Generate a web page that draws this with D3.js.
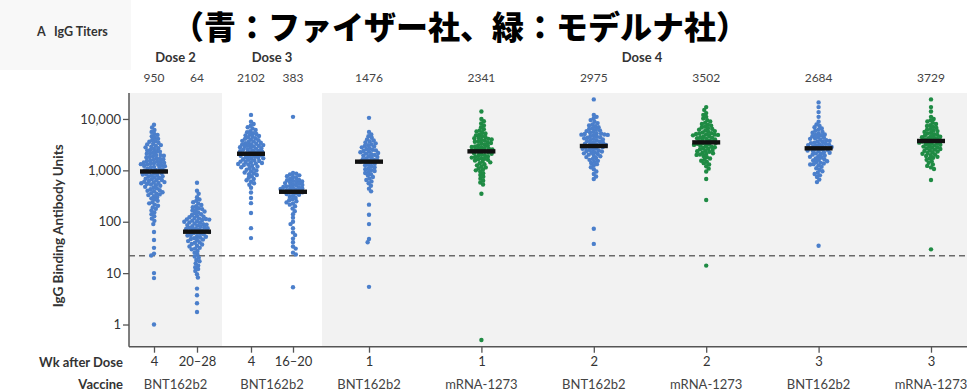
<!DOCTYPE html>
<html><head><meta charset="utf-8">
<script src="https://cdn.jsdelivr.net/npm/d3@7"></script>
<style>
html,body{margin:0;padding:0;background:#fff;}
svg{display:block;}
</style></head>
<body>
<svg id="chart" width="967" height="392"></svg>
<script>
// ---------------- DATA ----------------
const groupIds = ["d2w4","d2w24","d3w4","d3w18","bnt1","mrna1","bnt2","mrna2","bnt3","mrna3"];
const sections = ["Dose 2","Dose 3","Dose 4"];
const groupSection = [0,0,1,1,2,2,2,2,2,2];
const weekLabels = ["4","20–28","4","16–20","1","1","2","2","3","3"];
const vaccineLabels = ["BNT162b2","BNT162b2","BNT162b2","BNT162b2","BNT162b2","mRNA-1273","BNT162b2","mRNA-1273","BNT162b2","mRNA-1273"];
const gmtValues = [950,64,2102,383,1476,2341,2975,3502,2684,3729];
const yTickValues = [1,10,100,1000,10000];
const lloq = 21.8;

const d2w4Values = [7700,6800,6100,5600,5100,
 4900,4600,4300,4100,3900,3700,3600,3450,3300,3200,
 3100,3000,2900,2800,2700,2600,2500,2450,2350,2300,2200,2150,2100,2000,
 1980,1920,1880,1820,1780,1720,1680,1640,1600,1560,1520,1480,1450,1420,1400,1370,1340,1320,1300,
 1280,1250,1220,1200,1170,1140,1110,1080,1050,1020,1000,980,960,940,910,890,870,850,830,810,
 790,770,750,730,710,690,670,650,640,620,600,590,580,570,560,545,530,
 515,500,480,460,445,430,410,400,390,375,360,350,340,
 330,315,300,285,270,255,240,228,215,
 205,190,178,165,152,140,128,115,104,
 90,63,44,31,24,22,10,8,1.0];
const d2w24Values = [575,400,350,300,270,
 255,240,225,212,200,192,183,176,170,
 165,158,152,146,140,135,130,126,122,118,115,113,111,110,
 108,105,102,100,97,95,92,90,88,86,84,82,80,78,76,75,73,72,70,
 69,67,66,64,63,61,60,58,57,55,54,52,51,49,48,46,45,
 44,42,40,39,37,36,34,33,31,30,
 29,27,25,23,21,20,18,
 17,15.5,14,13,12,11,9.5,8.2,
 5,3.7,2.6,1.75];
const d3w4Values = [12000,
 8800,8000,7400,6900,6500,6100,5800,5500,5300,5100,4950,
 4800,4650,4500,4350,4200,4100,3950,3850,3750,3650,3550,3450,3380,3300,3230,3170,3100,
 3050,2990,2930,2870,2810,2750,2690,2630,2570,2510,2450,2400,2350,2300,2250,2200,2150,2100,2050,2000,
 1960,1920,1880,1840,1800,1760,1720,1680,1640,1600,1560,1520,1480,1450,1420,1390,1360,1330,1300,
 1270,1230,1190,1150,1110,1070,1030,990,950,910,880,840,810,
 770,720,680,640,600,560,525,
 460,370,290,230,148,75,48];
const d3w18Values = [11000,
 890,860,830,800,770,740,710,680,650,
 640,625,610,595,580,565,550,535,520,505,495,485,475,465,455,445,435,425,420,
 410,400,392,385,375,365,355,345,335,
 320,305,290,275,262,250,238,226,215,
 200,180,160,140,
 120,100,90,75,62,55,47,40,33,30,25,23,
 5.3];
const bnt1Values = [10500,
 5600,5000,4600,4300,4000,3800,3650,
 3500,3350,3200,3100,3000,2900,2800,2700,2600,2500,2450,2380,2300,
 2250,2180,2120,2060,2000,1940,1880,1820,1760,1700,1650,1600,1560,1520,1480,1450,
 1400,1350,1300,1250,1200,1150,1100,1050,1010,970,930,
 890,840,790,740,690,650,610,
 560,500,440,390,
 215,137,90,46,40,5.4];
const mrna1Values = [14000,
 10000,9000,8200,7500,6900,6300,
 6000,5700,5400,5200,5000,4800,4600,4450,4300,4200,4100,4000,3900,
 3800,3700,3600,3500,3400,3300,3200,3100,3000,2930,2860,2790,2720,2660,2600,2550,2500,
 2450,2400,2340,2280,2220,2160,2100,2040,1980,1920,1870,1820,1770,1720,1680,1640,1600,
 1550,1490,1430,1370,1310,1250,1190,1140,1090,1040,1000,
 950,880,810,750,690,630,580,530,
 350,0.5];
const bnt2Values = [24000,
 12000,11000,10200,9500,8800,8300,7800,
 7500,7200,6900,6600,6400,6200,6000,5800,5600,5450,5300,5200,5100,5000,4950,4900,
 4800,4650,4500,4400,4300,4200,4100,4000,3900,3800,3700,3600,3500,3420,3350,3280,3200,3130,
 3050,2980,2910,2840,2770,2700,2630,2560,2500,2440,2380,2320,2260,2200,2140,2080,2020,
 1950,1880,1810,1740,1670,1600,1530,1460,1390,1320,
 1250,1150,1050,950,850,760,680,
 73,37];
const mrna2Values = [17000,15000,13000,
 12000,11000,10200,9500,8900,8400,8000,7700,
 7400,7100,6800,6600,6400,6200,6000,5800,5600,5450,5300,5200,5100,5000,4950,4900,
 4800,4650,4500,4400,4300,4200,4100,4000,3900,3800,3700,3600,3500,3420,3350,3280,3200,3130,
 3050,2970,2890,2810,2730,2650,2570,2500,2430,2360,2290,2220,2150,2090,2030,2000,
 1900,1800,1700,1620,1540,1460,1380,1300,
 1200,1080,950,
 680,265,14];
const bnt3Values = [21000,17000,13600,11000,8800,
 7800,7300,6900,6500,6200,5900,5600,5400,5200,5000,4900,
 4750,4600,4450,4300,4200,4100,3950,3850,3750,3650,3550,3450,3380,3300,3230,3160,3100,
 3040,2980,2920,2860,2800,2740,2680,2620,2560,2500,2440,2380,2320,2260,2200,2140,2080,2020,
 1950,1890,1830,1770,1710,1650,1600,1550,1500,1450,1400,1360,1320,1300,
 1240,1170,1100,1030,960,900,850,800,
 740,660,590,
 34];
const mrna3Values = [24000,17000,14000,11000,
 10000,9400,8900,8400,8000,7600,7300,7000,6700,6400,
 6200,6000,5800,5600,5400,5200,5050,4900,4750,4600,4500,4400,4300,4200,4100,
 4000,3900,3800,3700,3620,3540,3460,3380,3300,3220,3140,3060,2980,2900,2820,2750,2680,2600,
 2530,2460,2390,2320,2250,2180,2110,2040,1970,1900,1830,1760,1700,
 1600,1500,1400,1300,1220,1140,1060,
 650,29];

const groupValues = [d2w4Values,d2w24Values,d3w4Values,d3w18Values,bnt1Values,mrna1Values,bnt2Values,mrna2Values,bnt3Values,mrna3Values];

// ---------------- LAYOUT ----------------
const W = 967, H = 392;
const plotTop = 93, plotBottom = 346.7, axisX = 129;
const svg = d3.select("#chart");
const font = "Lato, 'Open Sans', sans-serif";
const BLUE = "#4b7fcb", GREEN = "#1f8b44";

const y = d3.scaleLog().domain([0.37, 32000]).range([plotBottom, plotTop]);

const sectionExtents = [[axisX,222],[222,322],[322,W]];
const sectionScales = [
  d3.scalePoint().domain(groupIds.slice(0,2)).range([154,197]),
  d3.scalePoint().domain(groupIds.slice(2,4)).range([251,293]),
  d3.scalePoint().domain(groupIds.slice(4)).range([369,931])
];
const xOf = (i) => sectionScales[groupSection[i]](groupIds[i]);
const xScale = d3.scaleOrdinal().domain(groupIds).range(groupIds.map((g,i)=>xOf(i)));

// header background (faint)
svg.append("rect").attr("x",0).attr("y",0).attr("width",131).attr("height",70).attr("fill","#f8f8f8");

// panels
svg.append("rect").attr("x",sectionExtents[0][0]).attr("y",plotTop).attr("width",sectionExtents[0][1]-sectionExtents[0][0]).attr("height",plotBottom-plotTop).attr("fill","#f2f2f2");
svg.append("rect").attr("x",sectionExtents[2][0]).attr("y",plotTop).attr("width",sectionExtents[2][1]-sectionExtents[2][0]).attr("height",plotBottom-plotTop).attr("fill","#f2f2f2");

// titles
svg.append("text").attr("x",37).attr("y",36).attr("font-family",font).attr("font-weight",700).attr("font-size",12.5).attr("fill","#333").text("A");
svg.append("text").attr("x",54).attr("y",36).attr("font-family",font).attr("font-weight",700).attr("font-size",12.5).attr("fill","#333").text("IgG Titers");
svg.append("text").attr("x",172).attr("y",39).attr("font-family","'Noto Sans CJK JP', sans-serif").attr("font-weight",900).attr("font-size",32).attr("fill","#000").text("（青：ファイザー社、緑：モデルナ社）");

// section labels
sections.forEach((s,k)=>{
  const idx = groupSection.map((g,i)=>g===k?i:-1).filter(i=>i>=0);
  const cx = (xOf(idx[0])+xOf(idx[idx.length-1]))/2 - (k===2?8:0);
  svg.append("text").attr("x",cx).attr("y",62).attr("text-anchor","middle").attr("font-family",font).attr("font-weight",700).attr("font-size",13).attr("fill","#333").text(s);
});
// GMT numbers
svg.selectAll(".gmt").data(gmtValues).join("text").attr("class","gmt")
  .attr("x",(d,i)=>xOf(i)).attr("y",82).attr("text-anchor","middle")
  .attr("font-family",font).attr("font-size",12).attr("fill","#444").text(d=>d);

// y axis
const yAxis = d3.axisLeft(y).tickValues(yTickValues).tickFormat(d3.format(",")).tickSize(6).tickPadding(2);
const gy = svg.append("g").attr("transform",`translate(${axisX},0)`).call(yAxis);
gy.select(".domain").remove();
gy.selectAll(".tick line").attr("stroke","#555").attr("stroke-width",1.3);
gy.selectAll(".tick text").attr("font-family",font).attr("font-size",13).attr("fill","#333");
svg.append("line").attr("x1",axisX).attr("x2",axisX).attr("y1",plotTop).attr("y2",plotBottom).attr("stroke","#555").attr("stroke-width",1.5);
svg.append("text").attr("transform",`translate(63,${(plotTop+plotBottom)/2+6}) rotate(-90)`).attr("text-anchor","middle")
  .attr("font-family",font).attr("font-weight",700).attr("font-size",13.5).attr("fill","#333").text("IgG Binding Antibody Units");

// x axis
const xAxis = d3.axisBottom(xScale).tickSize(6).tickFormat((d)=>weekLabels[groupIds.indexOf(d)]).tickPadding(4);
const gx = svg.append("g").attr("transform",`translate(0,${plotBottom})`).call(xAxis);
gx.select(".domain").remove();
gx.selectAll(".tick line").attr("stroke","#555").attr("stroke-width",1.3);
gx.selectAll(".tick text").attr("font-family",font).attr("font-size",13).attr("fill","#333");
svg.append("line").attr("x1",axisX).attr("x2",W).attr("y1",plotBottom).attr("y2",plotBottom).attr("stroke","#555").attr("stroke-width",1.5);

svg.append("text").attr("x",123).attr("y",367).attr("text-anchor","end").attr("font-family",font).attr("font-weight",700).attr("font-size",13).attr("fill","#333").text("Wk after Dose");
svg.append("text").attr("x",123).attr("y",389).attr("text-anchor","end").attr("font-family",font).attr("font-weight",700).attr("font-size",13).attr("fill","#333").text("Vaccine");

const vacItems = [];
[0,1].forEach(k=>{
  const idx = groupSection.map((g,i)=>g===k?i:-1).filter(i=>i>=0);
  vacItems.push({x:(xOf(idx[0])+xOf(idx[1]))/2, t:vaccineLabels[idx[0]]});
});
groupIds.forEach((g,i)=>{ if(groupSection[i]===2) vacItems.push({x:xOf(i), t:vaccineLabels[i]}); });
svg.selectAll(".vac").data(vacItems).join("text").attr("class","vac")
  .attr("x",d=>d.x).attr("y",389).attr("text-anchor","middle")
  .attr("font-family",font).attr("font-size",13).attr("fill","#444").text(d=>d.t);

// LLOQ dashed line
svg.append("line").attr("x1",axisX).attr("x2",W).attr("y1",y(lloq)).attr("y2",y(lloq))
  .attr("stroke","#6a6a6a").attr("stroke-width",1.6).attr("stroke-dasharray","6,4");

// beeswarm
const R = 2.2, D = 3.4;
function swarm(values){
  const pts = values.map(v=>({v, y:y(v)})).sort((a,b)=>a.y-b.y);
  const placed = [];
  pts.forEach((p,n)=>{
    const near = placed.filter(q=>Math.abs(q.y-p.y)<D);
    const cands = [0];
    near.forEach(q=>{ const dx=Math.sqrt(D*D-(q.y-p.y)**2); if(n%2){cands.push(q.x-dx,q.x+dx);} else {cands.push(q.x+dx,q.x-dx);} });
    cands.sort((a,b)=>Math.abs(a)-Math.abs(b));
    for(const c of cands){
      if(near.every(q=>(q.x-c)**2+(q.y-p.y)**2>=D*D-1e-6)){p.x=c;break;}
    }
    placed.push(p);
  });
  return placed;
}
groupValues.forEach((vals,i)=>{
  const color = vaccineLabels[i]==="mRNA-1273"?GREEN:BLUE;
  const cx = xOf(i);
  svg.append("g").selectAll("circle").data(swarm(vals)).join("circle")
    .attr("cx",d=>cx+d.x).attr("cy",d=>d.y).attr("r",R).attr("fill",color);
});

// GMT bars
svg.selectAll(".bar").data(gmtValues).join("rect").attr("class","bar")
  .attr("x",(d,i)=>xOf(i)-14).attr("y",d=>y(d)-2.2).attr("width",28).attr("height",4.4).attr("fill","#111");
</script>
</body></html>
